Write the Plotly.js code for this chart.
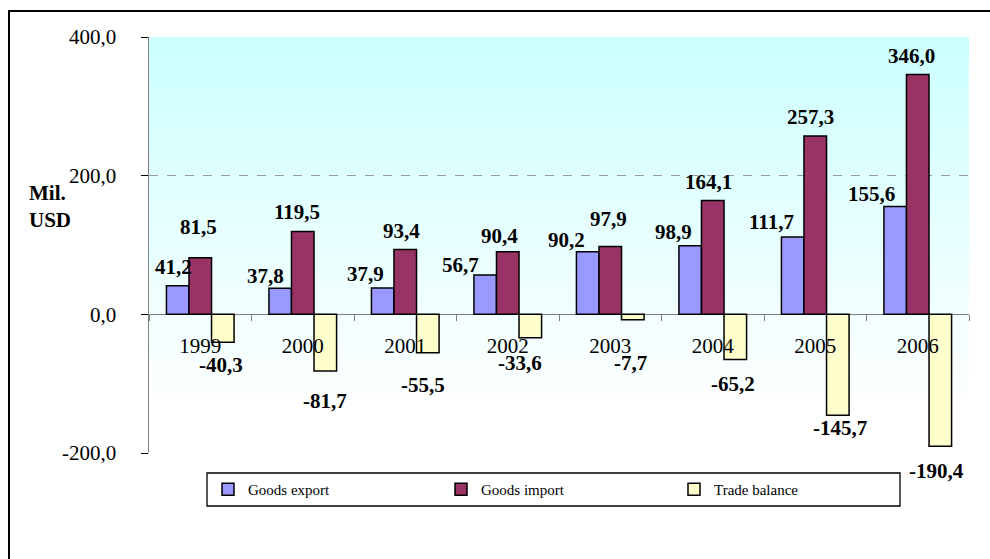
<!DOCTYPE html>
<html>
<head>
<meta charset="utf-8">
<script src="https://cdn.plot.ly/plotly-3.0.1.min.js"></script>
<style>html,body{margin:0;padding:0;background:#fff;}#chart{width:990px;height:559px;}</style>
</head>
<body>
<div id="chart"></div>
<script>
// ---- data ----
const years = ["1999","2000","2001","2002","2003","2004","2005","2006"];
const goodsExport = [41.2, 37.8, 37.9, 56.7, 90.2, 98.9, 111.7, 155.6];
const goodsImport = [81.5, 119.5, 93.4, 90.4, 97.9, 164.1, 257.3, 346.0];
const tradeBalance = [-40.3, -81.7, -55.5, -33.6, -7.7, -65.2, -145.7, -190.4];
const yTickVals = [-200, 0, 200, 400];
const seriesNames = ["Goods export", "Goods import", "Trade balance"];

// ---- label nudges (pixels, relative to bar end) ----
const nudgeExportX = [-4, -15, -17, -25, -21, -17, -21, -24];
const nudgeExportY = [19, 12, 14, 10, 12, 14, 15, 12];
const nudgeImportX = [-2, -6, -4, -8, -2, -4, -5, -6];
const nudgeImportY = [31, 19, 19, 16, 27, 19, 19, 18];
const nudgeBalX = [-2, 0, -5, -10, -2, -2, 2, -4];
const nudgeBalY = [-23, -30, -32, -25, -43, -24, -13, -25];

// ---- geometry ----
const W = 990, H = 559;
const L = 149, R = 969, T = 37, B = 453;
const px2x = p => (p - L) / (R - L);
const py2y = p => (B - p) / (B - T);
const serif = "Liberation Serif";
const fmt = v => v.toFixed(1).replace('.', ',');

const colors = ["#9999FF", "#993366", "#FFFFCC"];
const seriesData = [goodsExport, goodsImport, tradeBalance];

const traces = seriesData.map((d, k) => ({
  type: 'bar',
  name: seriesNames[k],
  x: years,
  y: d,
  marker: {color: colors[k], line: {color: '#000', width: 1.5}},
  hoverinfo: 'x+y'
}));

// background gradient bands
const shapes = [];
const gTop = 37, gBot = 412, nb = 60;
for (let i = 0; i < nb; i++) {
  const y0 = gTop + (gBot - gTop) * i / nb;
  const y1 = gTop + (gBot - gTop) * (i + 1) / nb + 0.6;
  const f = (i + 0.5) / nb;
  const r = Math.round(204 + 51 * f);
  shapes.push({type: 'rect', xref: 'paper', yref: 'paper', layer: 'below',
    x0: 0, x1: 1, y0: py2y(y1), y1: py2y(y0),
    fillcolor: `rgb(${r},255,255)`, line: {width: 0}});
}
// legend box
shapes.push({type: 'rect', xref: 'paper', yref: 'paper',
  x0: px2x(207), x1: px2x(900), y0: py2y(506), y1: py2y(473),
  fillcolor: 'rgba(0,0,0,0)', line: {color: '#000', width: 1.3}});
// outer frame
shapes.push({type: 'rect', xref: 'paper', yref: 'paper',
  x0: px2x(9), x1: px2x(1010), y0: py2y(580), y1: py2y(11),
  fillcolor: 'rgba(0,0,0,0)', line: {color: '#000', width: 2}});

const annotations = [];
const bw = 22.6;
const nudges = [[nudgeExportX, nudgeExportY, -bw], [nudgeImportX, nudgeImportY, 0], [nudgeBalX, nudgeBalY, bw]];
seriesData.forEach((d, k) => {
  d.forEach((v, i) => {
    annotations.push({
      x: i, y: v, xref: 'x', yref: 'y',
      text: '<b>' + fmt(v) + '</b>', showarrow: false,
      xanchor: 'center', yanchor: 'middle',
      xshift: nudges[k][2] + nudges[k][0][i],
      yshift: nudges[k][1][i],
      font: {family: serif, size: 21, color: '#000'}
    });
  });
});
annotations.push({
  xref: 'paper', yref: 'paper', x: px2x(27), y: py2y(206),
  xanchor: 'left', yanchor: 'middle', align: 'left', showarrow: false,
  text: '<b>Mil.</b><br><b>USD</b>',
  font: {family: serif, size: 21, color: '#000'}
});

const layout = {
  width: W, height: H,
  margin: {l: L, r: W - R, t: T, b: H - B, pad: 0},
  paper_bgcolor: '#fff',
  plot_bgcolor: 'rgba(0,0,0,0)',
  font: {family: serif, color: '#000'},
  barmode: 'group',
  bargap: 0.34,
  bargroupgap: 0,
  separators: ',.',
  showlegend: true,
  legend: {
    orientation: 'h', x: px2x(208), y: py2y(489.5), xanchor: 'left', yanchor: 'middle',
    xref: 'paper', yref: 'paper',
    bgcolor: 'rgba(0,0,0,0)', borderwidth: 0,
    entrywidth: 188, entrywidthmode: 'pixels',
    font: {family: serif, size: 15, color: '#000'},
    traceorder: 'normal'
  },
  xaxis: {
    type: 'category',
    range: [-0.5, years.length - 0.5],
    anchor: 'free', position: 1/3,
    showline: false, showgrid: false, zeroline: false,
    ticks: 'outside', tickson: 'boundaries', ticklen: 6, tickcolor: '#808080', tickwidth: 1,
    tickfont: {family: serif, size: 21, color: '#000'},
    ticklabelstandoff: 17
  },
  yaxis: {
    range: [-200, 400],
    tickvals: yTickVals,
    ticktext: yTickVals.map(fmt),
    showline: true, linecolor: '#808080', linewidth: 1.5,
    ticks: 'outside', ticklen: 7, tickcolor: '#000', tickwidth: 1,
    ticklabelstandoff: 20,
    tickfont: {family: serif, size: 21, color: '#000'},
    showgrid: true, gridcolor: '#9a9a9a', griddash: 'dash', gridwidth: 1,
    zeroline: true, zerolinecolor: '#808080', zerolinewidth: 1.5
  },
  shapes: shapes,
  annotations: annotations
};

Plotly.newPlot('chart', traces, layout, {displayModeBar: false, staticPlot: true});
</script>
</body>
</html>
